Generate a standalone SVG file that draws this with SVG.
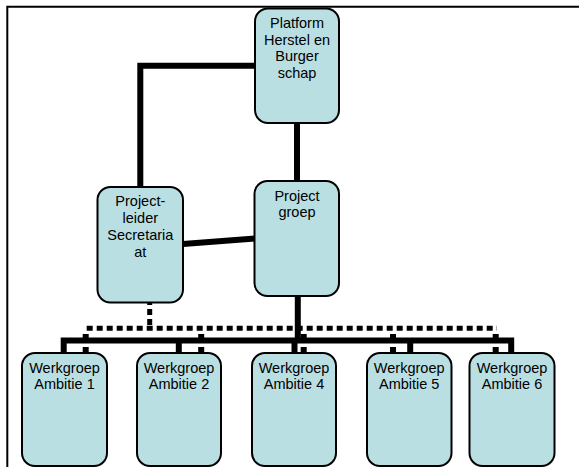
<svg xmlns="http://www.w3.org/2000/svg" width="579" height="467" viewBox="0 0 579 467">
<style>
.node{fill:#B9DFE2;stroke:#000;stroke-width:2}
.lbl{font-family:"Liberation Sans",Arial,sans-serif;font-size:14.5px;fill:#000;text-anchor:middle}
.solid{fill:none;stroke:#000;stroke-width:6}
.dash{fill:none;stroke:#000;stroke-width:5;stroke-dasharray:6 4}
.drop{fill:none;stroke:#000;stroke-width:6;stroke-dasharray:6 7 6 20}
</style>
<rect width="579" height="467" fill="#fff"/>
<path d="M579,6.7 H7.3 V467" fill="none" stroke="#000" stroke-width="2"/>
<g id="connectors">
  <path class="dash" d="M149.7,299 V328.3"/>
  <path class="dash" d="M86.7,328.3 H497"/>
  <path class="drop" d="M85.7,334 V353"/>
  <path class="drop" d="M201.2,334 V353"/>
  <path class="drop" d="M303.7,334 V353"/>
  <path class="drop" d="M393,334 V353"/>
  <path class="drop" d="M495.7,334 V353"/>
  <path class="solid" d="M255,65.7 H140.3 V187"/>
  <path class="solid" d="M297,123 V181"/>
  <path class="solid" d="M183,244 L255,238.5"/>
  <path class="solid" d="M297.8,296 V340.5"/>
  <path class="solid" d="M63.7,353 V340.5 H511.2 V353"/>
  <path class="solid" d="M178.8,340.5 V353"/>
  <path class="solid" d="M294.5,340.5 V353"/>
  <path class="solid" d="M410.2,340.5 V353"/>
</g>
<g id="platform">
  <rect class="node" x="255" y="8.5" width="84" height="114.5" rx="13"/>
  <text class="lbl" x="297" y="28">Platform</text>
  <text class="lbl" x="297" y="44.5">Herstel en</text>
  <text class="lbl" x="297" y="61">Burger</text>
  <text class="lbl" x="297" y="77.5">schap</text>
</g>
<g id="projectgroep">
  <rect class="node" x="254.5" y="181" width="84.5" height="115" rx="13"/>
  <text class="lbl" x="297" y="200.5">Project</text>
  <text class="lbl" x="297" y="217">groep</text>
</g>
<g id="projectleider">
  <rect class="node" x="97.5" y="187" width="85.5" height="115.5" rx="13"/>
  <text class="lbl" x="140.3" y="206">Project-</text>
  <text class="lbl" x="140.3" y="223">leider</text>
  <text class="lbl" x="140.3" y="240">Secretaria</text>
  <text class="lbl" x="140.3" y="256.5">at</text>
</g>
<g id="wg1">
  <rect class="node" x="22" y="353" width="85" height="113" rx="13"/>
  <text class="lbl" x="64.5" y="373">Werkgroep</text>
  <text class="lbl" x="64.5" y="389">Ambitie 1</text>
</g>
<g id="wg2">
  <rect class="node" x="137" y="353" width="84" height="113" rx="13"/>
  <text class="lbl" x="179" y="373">Werkgroep</text>
  <text class="lbl" x="179" y="389">Ambitie 2</text>
</g>
<g id="wg4">
  <rect class="node" x="252" y="353" width="84" height="113" rx="13"/>
  <text class="lbl" x="294" y="373">Werkgroep</text>
  <text class="lbl" x="294" y="389">Ambitie 4</text>
</g>
<g id="wg5">
  <rect class="node" x="367" y="353" width="84.5" height="113" rx="13"/>
  <text class="lbl" x="409.2" y="373">Werkgroep</text>
  <text class="lbl" x="409.2" y="389">Ambitie 5</text>
</g>
<g id="wg6">
  <rect class="node" x="469.5" y="353" width="85" height="113" rx="13"/>
  <text class="lbl" x="512" y="373">Werkgroep</text>
  <text class="lbl" x="512" y="389">Ambitie 6</text>
</g>
</svg>
